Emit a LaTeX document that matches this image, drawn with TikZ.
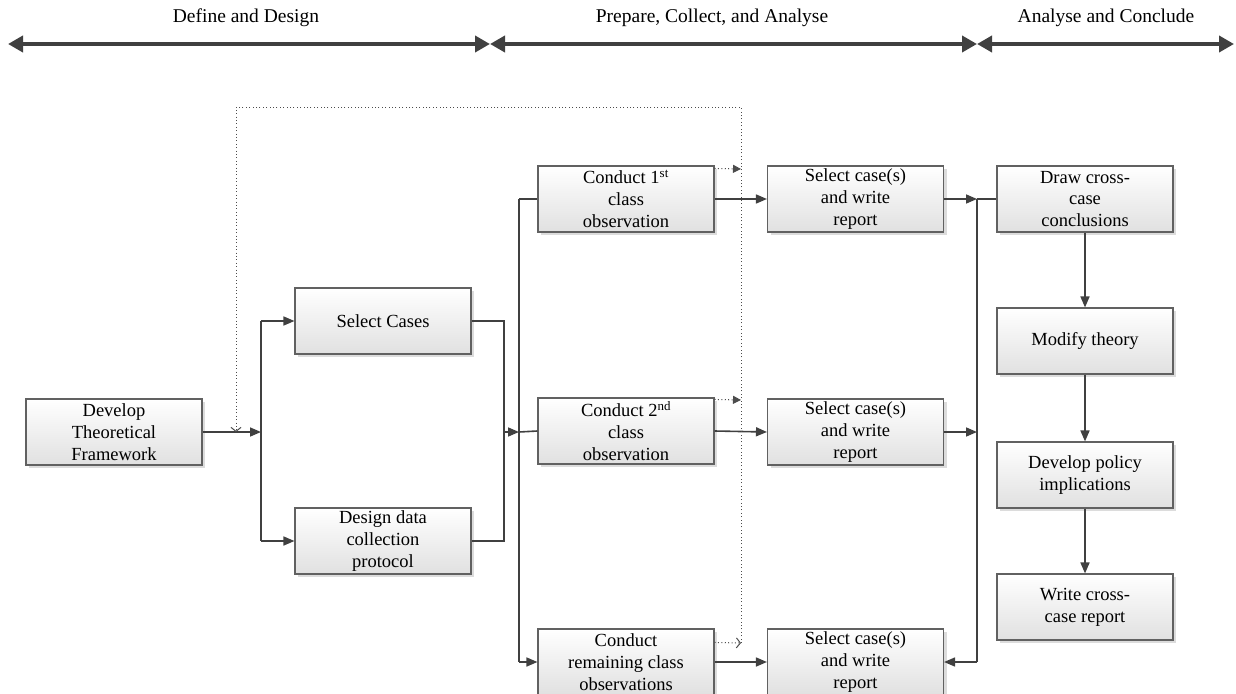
\documentclass[tikz,border=0pt]{standalone}
\usepackage{fontspec}
\setmainfont{Liberation Serif}
\usetikzlibrary{arrows.meta,shadows,calc}
\definecolor{linegray}{HTML}{404040}
\begin{document}
\begin{tikzpicture}[x=1pt,y=-1pt,
  stepbox/.style={draw=black!62, line width=1.1pt, top color=white, bottom color=black!12,
    minimum width=176pt, minimum height=66pt, inner sep=0pt, align=center,
    font=\fontsize{18.5}{21.8}\selectfont,
    drop shadow={shadow xshift=3pt, shadow yshift=-3pt, fill=black!30, opacity=0.45}},
  flow/.style={draw=linegray, line width=1.6pt, -{Triangle[length=11pt,width=9pt]}},
  link/.style={draw=linegray, line width=1.6pt},
  loop/.style={draw=black!70, line width=1pt, dash pattern=on 1pt off 2.4pt},
  loopfill/.style={loop, -{Triangle[length=8pt,width=8pt]}},
  loopopen/.style={loop, -{Straight Barb[length=4pt,width=10pt,line width=1pt]}},
  phase/.style={draw=linegray, line width=3.8pt,
    {Triangle[length=15pt,width=16pt]}-{Triangle[length=15pt,width=16pt]}},
  phaselabel/.style={font=\fontsize{19.5}{23}\selectfont, inner sep=0pt}
]
\useasboundingbox (0,0) rectangle (1236,693);

% phase bar
\coordinate (p0) at (8,44);
\coordinate (p1) at (490,44);
\coordinate (p2) at (977,44);
\coordinate (p3) at (1234,44);
\draw[phase] (p0) -- (p1);
\draw[phase] (p1) -- (p2);
\draw[phase] (p2) -- (p3);
\node[phaselabel] (ph1) at (246,18) {Define and Design};
\node[phaselabel] (ph2) at (712,18) {Prepare, Collect, and Analyse};
\node[phaselabel] (ph3) at (1106,18) {Analyse and Conclude};

% steps
\node[stepbox] (dev) at (114,432) {Develop\\Theoretical\\Framework};
\node[stepbox] (sel) at (383,321) {Select Cases};
\node[stepbox] (des) at (383,541) {Design data\\collection\\protocol};
\node[stepbox] (c1) at (626,199) {Conduct 1\textsuperscript{st}\\class\\observation};
\node[stepbox] (c2) at (626,431) {Conduct 2\textsuperscript{nd}\\class\\observation};
\node[stepbox] (c3) at (626,662) {Conduct\\remaining class\\observations};
\node[stepbox] (s1) at (855.5,199) {Select case(s)\\and write\\report};
\node[stepbox] (s2) at (855.5,432) {Select case(s)\\and write\\report};
\node[stepbox] (s3) at (855.5,662) {Select case(s)\\and write\\report};
\node[stepbox] (drw) at (1085,199) {Draw cross-\\case\\conclusions};
\node[stepbox] (mod) at (1085,341) {Modify theory};
\node[stepbox] (pol) at (1085,475) {Develop policy\\implications};
\node[stepbox] (wrt) at (1085,607) {Write cross-\\case report};

% split after the framework
\coordinate (ja) at (261,432);
\coordinate (jaT) at (261,321);
\coordinate (jaB) at (261,541);
\draw[flow] (dev.east) -- (ja);
\draw[link] (jaT) -- (jaB);
\draw[flow] (jaT) -- (sel.west);
\draw[flow] (jaB) -- (des.west);

% merge of cases and protocol
\coordinate (jbT) at (504,321);
\coordinate (jbB) at (504,541);
\coordinate (jb) at (504,432);
\coordinate (jc) at (519,432);
\coordinate (jcT) at (519,199);
\coordinate (jcB) at (519,662);
\draw[link] (sel.east) -- (jbT) -- (jbB) -- (des.east);
\draw[flow] (jb) -- (jc);
\draw[link] (jcT) -- (jcB);
\draw[link] (jcT) -- (c1.west);
\draw[link] (jc) -- (c2.west);
\draw[flow] (jcB) -- (c3.west);

% observations to reports
\draw[flow] (c1.east) -- (s1.west);
\draw[flow] (c2.east) -- (s2.west);
\draw[flow] (c3.east) -- (s3.west);

% reports to cross-case analysis
\coordinate (jdT) at (977,199);
\coordinate (jd) at (977,432);
\coordinate (jdB) at (977,662);
\draw[flow] (s1.east) -- (jdT);
\draw[link] (jdT) -- (drw.west);
\draw[link] (jdT) -- (jdB);
\draw[flow] (s2.east) -- (jd);
\draw[flow] (jdB) -- (s3.east);

\draw[flow] (drw.south) -- (mod.north);
\draw[flow] (mod.south) -- (pol.north);
\draw[flow] (pol.south) -- (wrt.north);

% feedback loop back to the theoretical framework
\coordinate (fb1) at (741,169);
\coordinate (fb2) at (741,400);
\coordinate (fb3) at (741,643);
\coordinate (fbTR) at (741,107);
\coordinate (fbTL) at (236,107);
\coordinate (fbEnd) at (236,432);
\draw[loopfill] ($(c1.north east)+(0,3)$) -- (fb1);
\draw[loopfill] ($(c2.north east)+(0,2)$) -- (fb2);
\draw[loopopen] ($(c3.north east)+(0,14)$) -- (fb3);
\draw[loopopen] (fb3) -- (fbTR) -- (fbTL) -- (fbEnd);
\end{tikzpicture}
\end{document}
